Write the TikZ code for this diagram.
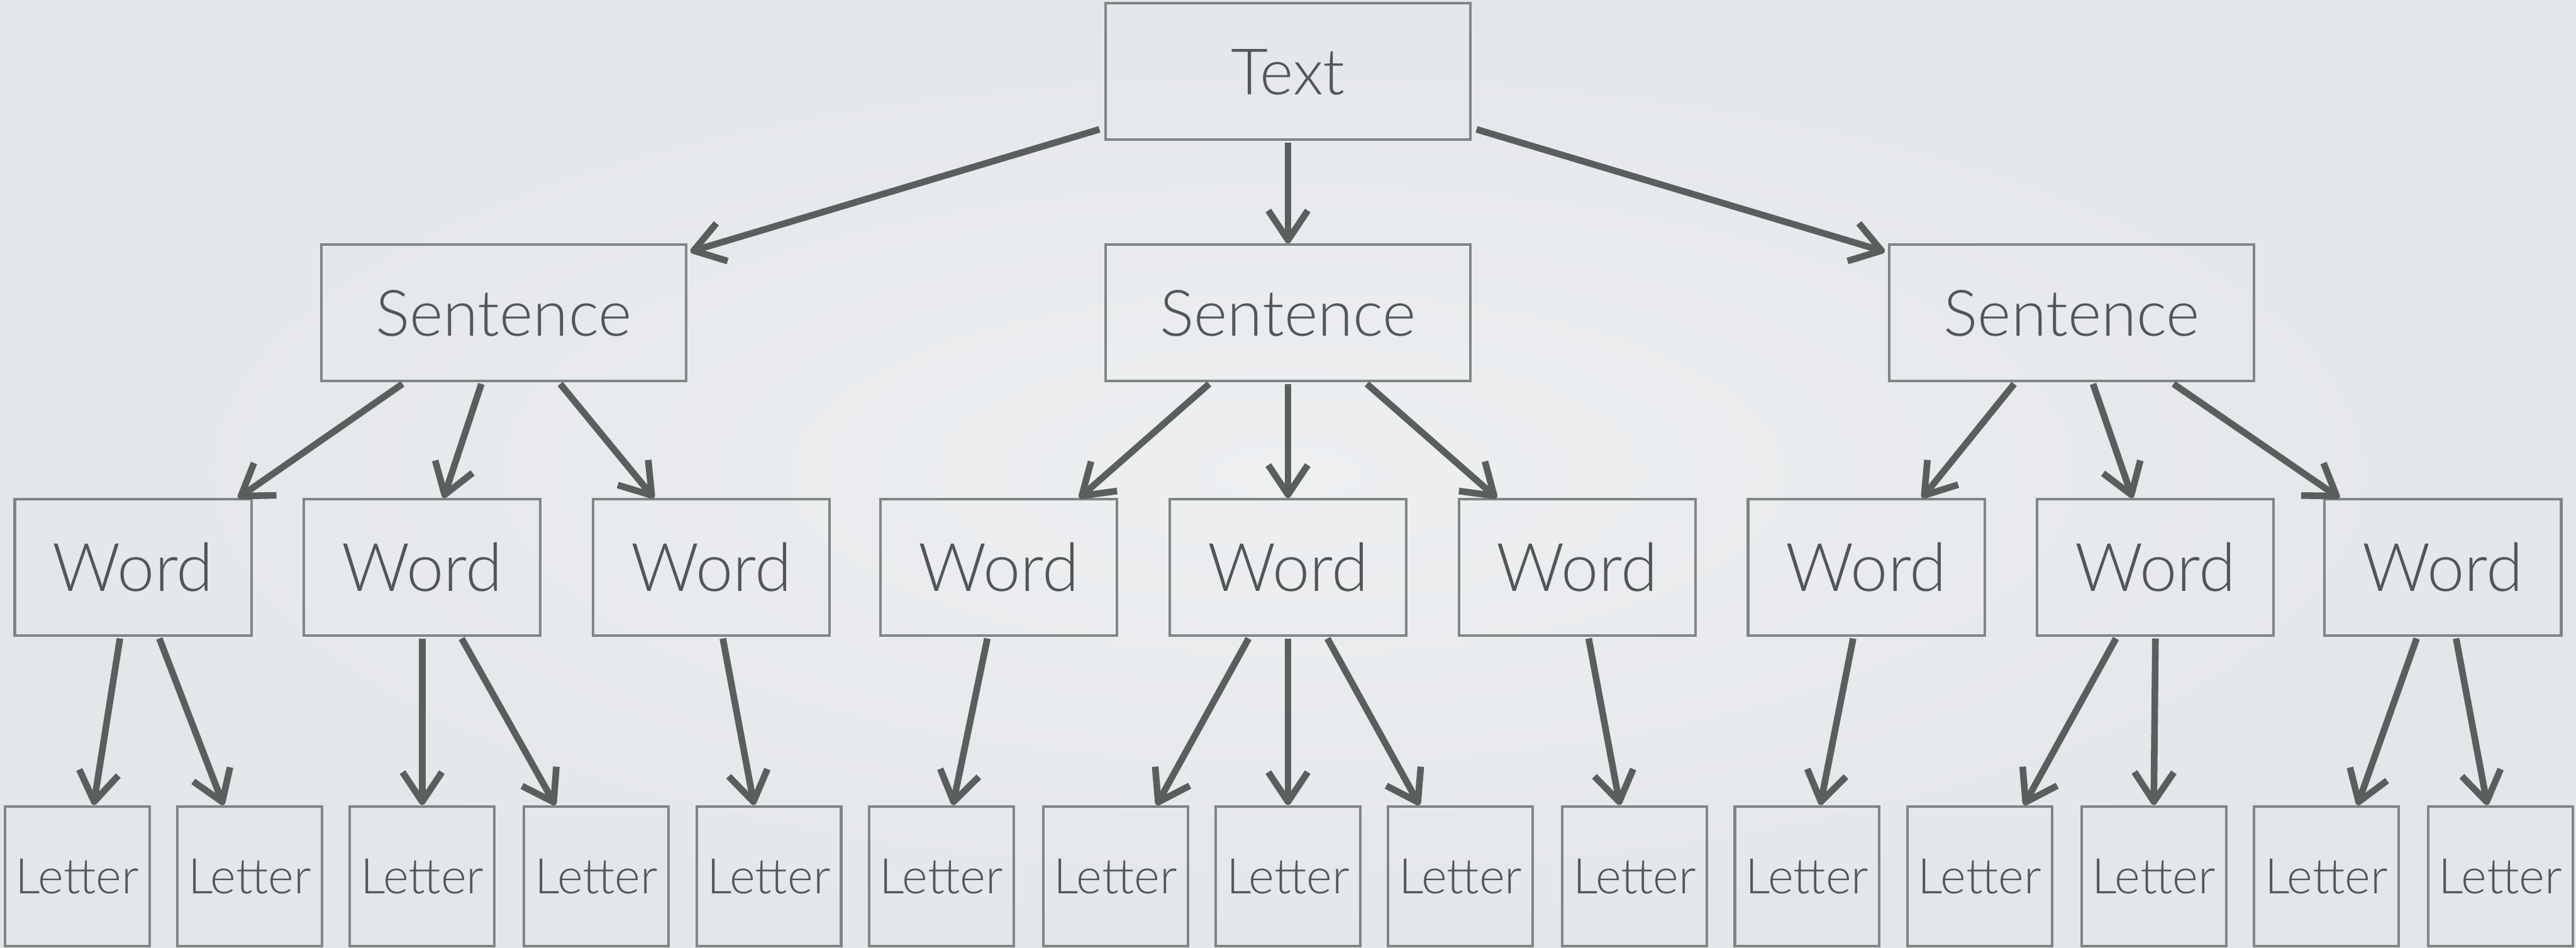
\documentclass[tikz,border=0pt]{standalone}
\usepackage{fontspec}
\setmainfont{Lato}[UprightFont=* Light]
\usetikzlibrary{arrows.meta,calc}
\definecolor{bgin}{HTML}{EDEFF1}
\definecolor{bgout}{HTML}{E4E7EA}
\definecolor{boxline}{HTML}{7F8684}
\definecolor{arrowc}{HTML}{5A5F5E}
\definecolor{ink}{HTML}{525656}
% arrow from a parent's bottom edge to a child's top edge, with horizontal offsets
\newcommand\lnk[4]{\draw[link] ($(#1.south)+(#2,1)$) -- ($(#3.north)+(#4,0)$);}
\begin{document}
\begin{tikzpicture}[x=0.1mm,y=-0.1mm,
  box/.style={draw=boxline, line width=0.45pt, inner sep=0pt, text=ink, text depth=0pt},
  bigbox/.style={box, minimum width=22.2mm, minimum height=8.3mm,
    font=\fontsize{11.1pt}{13pt}\selectfont, text height=2.8mm},
  wordbox/.style={box, minimum width=14.4mm, minimum height=8.3mm,
    font=\fontsize{11.6pt}{13pt}\selectfont, text height=2.9mm},
  letterbox/.style={box, minimum width=8.8mm, minimum height=8.5mm,
    font=\fontsize{8.5pt}{10pt}\selectfont, text height=2.1mm},
  link/.style={draw=arrowc, line width=1.15pt, line join=round,
    -{Straight Barb[length=1.8mm,width=2.4mm,line join=round]}}]

% background
\shade[inner color=bgin, outer color=bgout] (0,0) rectangle (1568,577);
\useasboundingbox (0,0) rectangle (1568,577);

% top level
\node[bigbox] (t) at (784,43.5) {Text};

% sentences
\node[bigbox] (s1) at (306.5,190.5) {Sentence};
\node[bigbox] (s2) at (784,190.5) {Sentence};
\node[bigbox] (s3) at (1261,190.5) {Sentence};

% words
\foreach \i/\x in {1/81,2/257,3/433,4/608,5/784,6/960,7/1136,8/1312,9/1487}
  \node[wordbox] (w\i) at (\x,345.5) {Word};

% letters
\foreach \i/\x in {1/47,2/152,3/257,4/363,5/468,6/573,7/679,8/784,9/889,10/995,
                   11/1100,12/1205,13/1311,14/1416,15/1522}
  \node[letterbox] (l\i) at (\x,533.5) {Letter};

% text -> sentences
\draw[link] ($(t.south west)+(-3,-7)$) -- ($(s1.north east)+(2,5)$);
\draw[link] ($(t.south)+(0,1)$) -- (s2.north);
\draw[link] ($(t.south east)+(3,-7)$) -- ($(s3.north west)+(-2,5)$);

% sentences -> words
\lnk{s1}{-61.5}{w1}{64}
\lnk{s1}{-13.5}{w2}{13}
\lnk{s1}{34.5}{w3}{-35}
\lnk{s2}{-48}{w4}{49}
\lnk{s2}{0}{w5}{0}
\lnk{s2}{48}{w6}{-49}
\lnk{s3}{-35}{w7}{34}
\lnk{s3}{13}{w8}{-14}
\lnk{s3}{62}{w9}{-63}

% words -> letters
\lnk{w1}{-8}{l1}{10}
\lnk{w1}{16}{l2}{-16}
\lnk{w2}{0}{l3}{0}
\lnk{w2}{24}{l4}{-25}
\lnk{w3}{7}{l5}{-9}
\lnk{w4}{-7}{l6}{7}
\lnk{w5}{-24}{l7}{25}
\lnk{w5}{0}{l8}{0}
\lnk{w5}{24}{l9}{-25}
\lnk{w6}{7}{l10}{-9}
\lnk{w7}{-8}{l11}{8}
\lnk{w8}{-24}{l12}{27}
\lnk{w8}{0}{l13}{0}
\lnk{w9}{-16}{l14}{19}
\lnk{w9}{8}{l15}{-8}
\end{tikzpicture}
\end{document}
